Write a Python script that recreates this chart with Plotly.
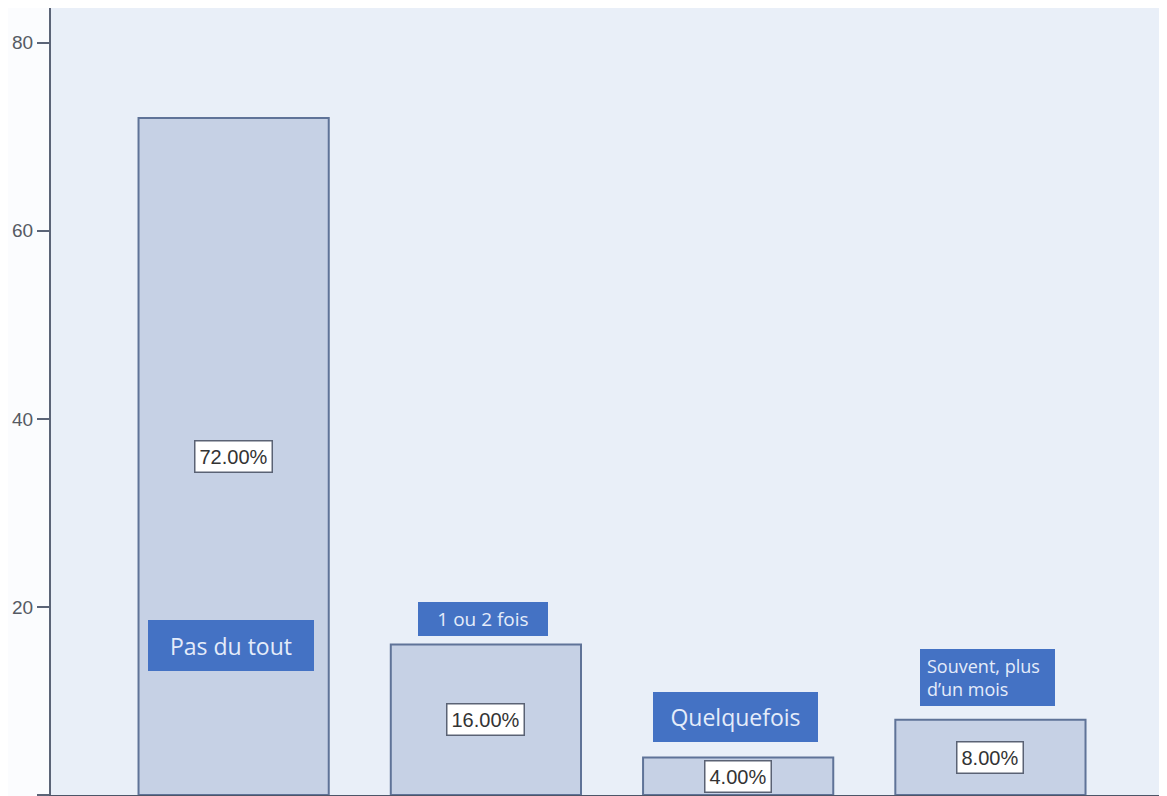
import plotly.graph_objects as go

categories = ["Pas du tout", "1 ou 2 fois", "Quelquefois", "Souvent, plus<br>d’un mois"]
values = [72, 16, 4, 8]
pct_labels = ["72.00%", "16.00%", "4.00%", "8.00%"]
tick_vals = [0, 20, 40, 60, 80]

# category label box placement (data y) and sizes
cat_y = [15.85, 18.7, 8.3, 12.55]
cat_w = [166, 130, 165, 121]
cat_h = [51, 34, 50, 43]
cat_pad = [0, 0, 0, 7]
cat_fs = [23, 19, 23, 18]
cat_align = ["center", "center", "center", "left"]

x = list(range(len(values)))

fig = go.Figure()
fig.add_trace(go.Bar(
    x=x, y=values, width=0.754,
    marker=dict(color="#c6d1e5", line=dict(color="#5f7398", width=2)),
    hoverinfo="skip",
))

for i, (v, t) in enumerate(zip(values, pct_labels)):
    fig.add_annotation(
        x=i, y=v / 2, text=t, showarrow=False,
        font=dict(family="Liberation Sans, Arial", size=20, color="#333333"),
        bgcolor="#ffffff", bordercolor="#5a6274", borderwidth=1.5, borderpad=4,
    )

for i, c in enumerate(categories):
    fig.add_annotation(
        x=i - 0.01, y=cat_y[i], text=c, showarrow=False,
        width=cat_w[i], height=cat_h[i], align=cat_align[i],
        font=dict(family="Open Sans, Lato, sans-serif", size=cat_fs[i], color="#e4ecfa"),
        bgcolor="#4472c4", borderwidth=0, borderpad=cat_pad[i],
    )

fig.update_layout(
    width=1159, height=788,
    margin=dict(l=43, r=0, t=0, b=1),
    paper_bgcolor="#fbfcfe",
    plot_bgcolor="#e9eff8",
    showlegend=False,
    bargap=0.25,
    xaxis=dict(range=[-0.724, 3.70], showticklabels=False, ticks="",
               showgrid=False, zeroline=False, showline=True,
               linecolor="#4d5668", linewidth=2),
    yaxis=dict(range=[0, 83.7], tickvals=tick_vals, ticks="outside", ticklen=12,
               tickwidth=2, tickcolor="#5b6477",
               showgrid=False, zeroline=False, showline=True,
               linecolor="#5b6477", linewidth=2,
               tickfont=dict(family="Liberation Sans, Arial", size=19, color="#555a63")),
)

fig.write_html("out.html")
